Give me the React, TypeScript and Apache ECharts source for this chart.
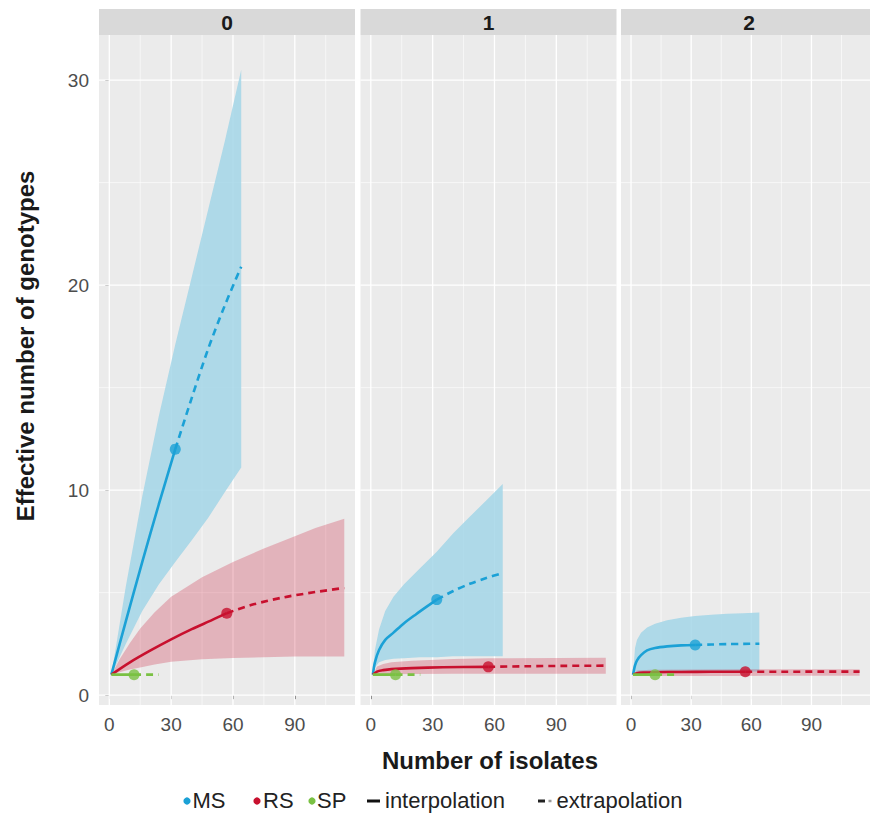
import React, { useEffect, useRef } from 'react';
import * as echarts from 'echarts';

// ---- facets / ticks ----
const PANELS = ['0', '1', '2'];
const X_TICKS = [0, 30, 60, 90];
const X_MINOR = [15, 45, 75, 105];
const Y_TICKS = [0, 10, 20, 30];
const Y_MINOR = [5, 15, 25];

// ---- Panel 0 ----
const P0_MS_INT_X = [1, 8, 16, 24, 32];
const P0_MS_INT_Y = [1, 3.6, 6.5, 9.3, 12.0];
const P0_MS_EXT_X = [32, 40, 48, 56, 64];
const P0_MS_EXT_Y = [12.0, 14.5, 16.9, 19.0, 20.9];
const P0_MS_CI_X = [1, 8, 16, 24, 32, 40, 48, 56, 64];
const P0_MS_CI_HI = [1, 5.3, 9.7, 13.6, 17.1, 20.4, 23.7, 27.0, 30.5];
const P0_MS_CI_LO = [1, 2.5, 4.1, 5.4, 6.5, 7.55, 8.65, 9.9, 11.1];

const P0_RS_INT_X = [1, 10, 20, 30, 40, 50, 57];
const P0_RS_INT_Y = [1, 1.6, 2.18, 2.72, 3.22, 3.67, 4.0];
const P0_RS_EXT_X = [57, 70, 85, 100, 114];
const P0_RS_EXT_Y = [4.0, 4.43, 4.78, 5.03, 5.23];
const P0_RS_CI_X = [1, 5, 10, 15, 22, 30, 45, 60, 75, 90, 100, 114];
const P0_RS_CI_HI = [1, 1.75, 2.55, 3.25, 4.05, 4.8, 5.75, 6.5, 7.15, 7.75, 8.15, 8.6];
const P0_RS_CI_LO = [1, 1.12, 1.25, 1.35, 1.5, 1.63, 1.75, 1.81, 1.85, 1.88, 1.89, 1.89];

// ---- Panel 1 ----
const P1_MS_INT_X = [1, 2, 4, 7, 11, 16, 22, 28, 32];
const P1_MS_INT_Y = [1, 1.6, 2.2, 2.7, 3.05, 3.5, 3.95, 4.38, 4.66];
const P1_MS_EXT_X = [32, 40, 48, 56, 64];
const P1_MS_EXT_Y = [4.66, 5.08, 5.43, 5.71, 5.96];
const P1_MS_CI_X = [1, 2, 4, 7, 11, 16, 24, 32, 40, 48, 56, 64];
const P1_MS_CI_HI = [1, 2.2, 3.2, 4.1, 4.8, 5.4, 6.2, 7.0, 7.9, 8.7, 9.5, 10.3];
const P1_MS_CI_LO = [1, 1.35, 1.6, 1.72, 1.78, 1.8, 1.85, 1.85, 1.9, 1.9, 1.9, 1.9];

const P1_RS_INT_X = [1, 3, 6, 10, 20, 35, 57];
const P1_RS_INT_Y = [1, 1.15, 1.22, 1.27, 1.32, 1.36, 1.38];
const P1_RS_EXT_X = [57, 75, 95, 114];
const P1_RS_EXT_Y = [1.38, 1.41, 1.43, 1.44];
const P1_RS_CI_X = [1, 3, 6, 10, 20, 40, 57, 114];
const P1_RS_CI_HI = [1, 1.4, 1.52, 1.6, 1.68, 1.76, 1.8, 1.83];
const P1_RS_CI_LO = [1, 1.0, 1.01, 1.02, 1.03, 1.04, 1.04, 1.04];

// ---- Panel 2 ----
const P2_MS_INT_X = [1, 2, 3, 5, 8, 12, 18, 25, 32];
const P2_MS_INT_Y = [1, 1.45, 1.7, 1.95, 2.18, 2.3, 2.38, 2.43, 2.45];
const P2_MS_EXT_X = [32, 40, 48, 56, 64];
const P2_MS_EXT_Y = [2.45, 2.47, 2.49, 2.5, 2.51];
const P2_MS_CI_X = [1, 2, 3, 5, 8, 12, 18, 25, 32, 40, 48, 56, 64];
const P2_MS_CI_HI = [1, 2.3, 2.7, 3.05, 3.3, 3.48, 3.65, 3.78, 3.86, 3.92, 3.97, 4.0, 4.03];
const P2_MS_CI_LO = [1, 1.05, 1.08, 1.1, 1.12, 1.13, 1.14, 1.15, 1.15, 1.15, 1.15, 1.15, 1.15];

const P2_RS_INT_X = [1, 3, 6, 12, 25, 40, 57];
const P2_RS_INT_Y = [1, 1.07, 1.1, 1.12, 1.13, 1.14, 1.14];
const P2_RS_EXT_X = [57, 75, 95, 114];
const P2_RS_EXT_Y = [1.14, 1.14, 1.15, 1.15];
const P2_RS_CI_X = [1, 3, 10, 57, 114];
const P2_RS_CI_HI = [1, 1.2, 1.24, 1.26, 1.26];
const P2_RS_CI_LO = [1, 0.95, 0.94, 0.94, 0.95];

// ---- SP (same in every panel) ----
const SP_INT_X = [1, 4, 8, 12];
const SP_INT_Y = [1, 1, 1, 1];
const SP_EXT_X = [12, 18, 24];
const SP_EXT_Y = [1, 1, 1];

const LEGEND_SITES = ['MS', 'RS', 'SP'];

const COLORS: Record<string, string> = { MS: '#1ba1d6', RS: '#c8102e', SP: '#7ac143' };
const RIBBON: Record<string, string> = { MS: 'rgba(160,212,230,0.82)', RS: 'rgba(205,30,60,0.27)' };
const FONT = '"Liberation Sans", Arial, Helvetica, sans-serif';

type Sp = { ix: number[]; iy: number[]; ex: number[]; ey: number[]; cx?: number[]; hi?: number[]; lo?: number[] };

const PANEL_DATA: Record<string, Sp>[] = [
  {
    MS: { ix: P0_MS_INT_X, iy: P0_MS_INT_Y, ex: P0_MS_EXT_X, ey: P0_MS_EXT_Y, cx: P0_MS_CI_X, hi: P0_MS_CI_HI, lo: P0_MS_CI_LO },
    RS: { ix: P0_RS_INT_X, iy: P0_RS_INT_Y, ex: P0_RS_EXT_X, ey: P0_RS_EXT_Y, cx: P0_RS_CI_X, hi: P0_RS_CI_HI, lo: P0_RS_CI_LO },
    SP: { ix: SP_INT_X, iy: SP_INT_Y, ex: SP_EXT_X, ey: SP_EXT_Y },
  },
  {
    MS: { ix: P1_MS_INT_X, iy: P1_MS_INT_Y, ex: P1_MS_EXT_X, ey: P1_MS_EXT_Y, cx: P1_MS_CI_X, hi: P1_MS_CI_HI, lo: P1_MS_CI_LO },
    RS: { ix: P1_RS_INT_X, iy: P1_RS_INT_Y, ex: P1_RS_EXT_X, ey: P1_RS_EXT_Y, cx: P1_RS_CI_X, hi: P1_RS_CI_HI, lo: P1_RS_CI_LO },
    SP: { ix: SP_INT_X, iy: SP_INT_Y, ex: SP_EXT_X, ey: SP_EXT_Y },
  },
  {
    MS: { ix: P2_MS_INT_X, iy: P2_MS_INT_Y, ex: P2_MS_EXT_X, ey: P2_MS_EXT_Y, cx: P2_MS_CI_X, hi: P2_MS_CI_HI, lo: P2_MS_CI_LO },
    RS: { ix: P2_RS_INT_X, iy: P2_RS_INT_Y, ex: P2_RS_EXT_X, ey: P2_RS_EXT_Y, cx: P2_RS_CI_X, hi: P2_RS_CI_HI, lo: P2_RS_CI_LO },
    SP: { ix: SP_INT_X, iy: SP_INT_Y, ex: SP_EXT_X, ey: SP_EXT_Y },
  },
];

const GRID_LEFTS = [99, 360.5, 621];
const GRID_TOP = 35;
const GRID_W = 256;
const GRID_H = 670;
const X_MIN = -5;
const X_MAX = 119.2;
const Y_MIN = -0.48;
const Y_MAX = 32.2;

const zip = (xs: number[], ys: number[]) => xs.map((x, i) => [x, ys[i]]);

function gridLineSeries(g: number) {
  const data = [
    ...X_MINOR.map((v) => [v, 0, 0]),
    ...X_TICKS.map((v) => [v, 0, 1]),
    ...Y_MINOR.map((v) => [v, 1, 0]),
    ...Y_TICKS.map((v) => [v, 1, 1]),
  ];
  return {
    type: 'custom',
    xAxisIndex: g,
    yAxisIndex: g,
    silent: true,
    z: 1,
    data,
    renderItem: (params: any, api: any) => {
      const cs = params.coordSys;
      const v = api.value(0);
      const o = api.value(1);
      const major = api.value(2);
      const style = { stroke: '#ffffff', lineWidth: major ? 1.3 : 0.6 };
      if (o === 0) {
        const px = api.coord([v, 0])[0];
        return { type: 'line', shape: { x1: px, y1: cs.y, x2: px, y2: cs.y + cs.height }, style };
      }
      const py = api.coord([0, v])[1];
      return { type: 'line', shape: { x1: cs.x, y1: py, x2: cs.x + cs.width, y2: py }, style };
    },
  };
}

function ribbonSeries(g: number, xs: number[], hi: number[], lo: number[], fill: string) {
  return {
    type: 'custom',
    xAxisIndex: g,
    yAxisIndex: g,
    silent: true,
    z: 2,
    data: [[xs[0], lo[0]]],
    renderItem: (_params: any, api: any) => {
      const pts: number[][] = [];
      for (let i = 0; i < xs.length; i++) pts.push(api.coord([xs[i], hi[i]]));
      for (let i = xs.length - 1; i >= 0; i--) pts.push(api.coord([xs[i], lo[i]]));
      return { type: 'polygon', shape: { points: pts }, style: { fill } };
    },
  };
}

function App() {
  const ref = useRef<HTMLDivElement>(null);
  useEffect(() => {
    if (!ref.current) return;
    const chart = echarts.init(ref.current, null, { renderer: 'svg' });

    const grid = GRID_LEFTS.map((left) => ({
      left,
      top: GRID_TOP,
      width: GRID_W,
      height: GRID_H,
      show: true,
      backgroundColor: '#ebebeb',
      borderWidth: 0,
      containLabel: false,
    }));

    const xAxis = PANELS.map((_, g) => ({
      type: 'value',
      gridIndex: g,
      min: X_MIN,
      max: X_MAX,
      axisLine: { show: false },
      splitLine: { show: false },
      axisTick: { show: true, customValues: X_TICKS, length: 4, lineStyle: { color: '#333', width: 1 } },
      axisLabel: { customValues: X_TICKS, fontSize: 19, color: '#4d4d4d', margin: 10, fontFamily: FONT },
    }));

    const yAxis = PANELS.map((_, g) => ({
      type: 'value',
      gridIndex: g,
      min: Y_MIN,
      max: Y_MAX,
      axisLine: { show: false },
      splitLine: { show: false },
      axisTick: { show: g === 0, customValues: Y_TICKS, length: 4, lineStyle: { color: '#333', width: 1 } },
      axisLabel: { show: g === 0, customValues: Y_TICKS, fontSize: 19, color: '#4d4d4d', margin: 10, fontFamily: FONT },
    }));

    const series: any[] = [];
    PANEL_DATA.forEach((pd, g) => {
      series.push(gridLineSeries(g));
      ['MS', 'RS'].forEach((k) => {
        const s = pd[k];
        if (s.cx && s.hi && s.lo) series.push(ribbonSeries(g, s.cx, s.hi, s.lo, RIBBON[k]));
      });
      ['MS', 'RS', 'SP'].forEach((k) => {
        const s = pd[k];
        series.push({
          type: 'line',
          xAxisIndex: g,
          yAxisIndex: g,
          data: zip(s.ix, s.iy),
          symbol: 'none',
          smooth: 0.3,
          lineStyle: { color: COLORS[k], width: 2.6 },
          z: 3,
          silent: true,
        });
        series.push({
          type: 'line',
          xAxisIndex: g,
          yAxisIndex: g,
          data: zip(s.ex, s.ey),
          symbol: 'none',
          smooth: 0.3,
          lineStyle: { color: COLORS[k], width: 2.6, type: [7, 5] },
          z: 3,
          silent: true,
        });
      });
      ['MS', 'RS', 'SP'].forEach((k) => {
        const s = pd[k];
        const n = s.ix.length - 1;
        series.push({
          type: 'scatter',
          xAxisIndex: g,
          yAxisIndex: g,
          data: [[s.ix[n], s.iy[n]]],
          symbol: 'circle',
          symbolSize: 11,
          itemStyle: { color: COLORS[k] },
          z: 4,
          silent: true,
        });
      });
    });

    const graphic: any[] = [];
    GRID_LEFTS.forEach((left, i) => {
      graphic.push({
        type: 'rect',
        shape: { x: left, y: 9, width: GRID_W, height: 26 },
        style: { fill: '#d9d9d9' },
        silent: true,
      });
      graphic.push({
        type: 'text',
        x: left + GRID_W / 2,
        y: 22.5,
        style: {
          text: PANELS[i],
          fontSize: 21,
          fontWeight: 'bold',
          fill: '#1a1a1a',
          fontFamily: FONT,
          textAlign: 'center',
          textVerticalAlign: 'middle',
        },
        silent: true,
      });
    });
    graphic.push({
      type: 'text',
      x: 490,
      y: 760,
      style: {
        text: 'Number of isolates',
        fontSize: 24,
        fontWeight: 'bold',
        fill: '#1a1a1a',
        fontFamily: FONT,
        textAlign: 'center',
        textVerticalAlign: 'middle',
      },
      silent: true,
    });
    graphic.push({
      type: 'text',
      x: 25,
      y: 346,
      rotation: Math.PI / 2,
      style: {
        text: 'Effective number of genotypes',
        fontSize: 24,
        fontWeight: 'bold',
        fill: '#1a1a1a',
        fontFamily: FONT,
        textAlign: 'center',
        textVerticalAlign: 'middle',
      },
      silent: true,
    });

    // legend
    const LY = 800;
    const FS = 22;
    const dotX = [187, 257, 312];
    const txtX = [192.5, 263, 317];
    LEGEND_SITES.forEach((k, i) => {
      graphic.push({ type: 'circle', shape: { cx: dotX[i], cy: LY + 1, r: 3.6 }, style: { fill: COLORS[k] }, silent: true });
      graphic.push({
        type: 'text',
        x: txtX[i],
        y: LY,
        style: { text: k, fontSize: FS, fill: '#222', fontFamily: FONT, textAlign: 'left', textVerticalAlign: 'middle' },
        silent: true,
      });
    });
    graphic.push({ type: 'line', shape: { x1: 367, y1: LY + 1, x2: 380, y2: LY + 1 }, style: { stroke: '#111', lineWidth: 3 }, silent: true });
    graphic.push({
      type: 'text',
      x: 385,
      y: LY,
      style: { text: 'interpolation', fontSize: FS, fill: '#222', fontFamily: FONT, textAlign: 'left', textVerticalAlign: 'middle' },
      silent: true,
    });
    graphic.push({ type: 'line', shape: { x1: 538, y1: LY + 1, x2: 545, y2: LY + 1 }, style: { stroke: '#222', lineWidth: 3 }, silent: true });
    graphic.push({ type: 'line', shape: { x1: 548.5, y1: LY + 1, x2: 551.5, y2: LY + 1 }, style: { stroke: '#999', lineWidth: 2.5 }, silent: true });
    graphic.push({
      type: 'text',
      x: 556.5,
      y: LY,
      style: { text: 'extrapolation', fontSize: FS, fill: '#222', fontFamily: FONT, textAlign: 'left', textVerticalAlign: 'middle' },
      silent: true,
    });

    chart.setOption({
      animation: false,
      backgroundColor: '#ffffff',
      textStyle: { fontFamily: FONT },
      grid,
      xAxis,
      yAxis,
      series,
      graphic,
    });
    return () => chart.dispose();
  }, []);

  return (
    <div
      ref={ref}
      style={{ position: 'fixed', left: 0, top: 0, width: 870, height: 813, background: '#fff' }}
    />
  );
}

export default App;
